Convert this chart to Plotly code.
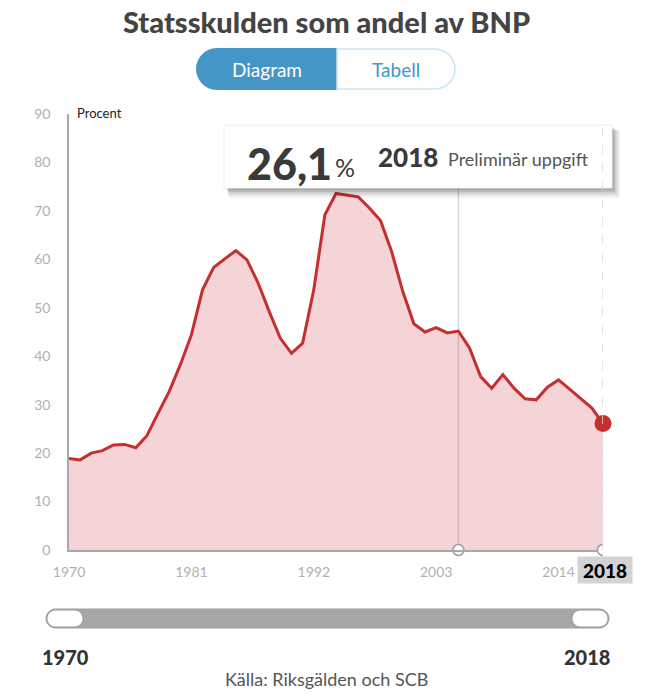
import math
import plotly.graph_objects as go

# ---------------- data ----------------
years = list(range(1970, 2019))
debt_pct = [18.9, 18.6, 20.0, 20.5, 21.7, 21.8, 21.1, 23.6, 28.2, 32.7,
            38.2, 44.4, 53.7, 58.3, 60.1, 61.8, 59.9, 55.1, 49.2, 43.7,
            40.6, 42.7, 53.7, 69.2, 73.6, 73.3, 72.9, 70.6, 68.0, 61.6,
            53.4, 46.7, 45.0, 45.9, 44.8, 45.2, 41.7, 35.8, 33.4, 36.2,
            33.4, 31.2, 31.0, 33.6, 35.1, 33.2, 31.3, 29.3, 26.1]
x_tickvals = [1970, 1981, 1992, 2003, 2014]
y_tickvals = [0, 10, 20, 30, 40, 50, 60, 70, 80, 90]
hover_year = 2005
selected_year = 2018
selected_value = "26,1"

title_text = "Statsskulden som andel av BNP"
source_text = "Källa: Riksgälden och SCB"

# ---------------- geometry helpers (pixel -> paper) ----------------
W, H = 652, 700
L, R, T, B = 69, 603, 114, 550
PW, PH = R - L, B - T


def px(x):
    return (x - L) / PW


def py(y):
    return (B - y) / PH


def rr_path(x0, y0, x1, y1, r, left=True, right=True, n=14):
    pts = []
    if right:
        cx, cy = x1 - r, (y0 + y1) / 2
        for i in range(n + 1):
            a = -math.pi / 2 + math.pi * i / n
            pts.append((cx + r * math.cos(a), cy + r * math.sin(a)))
    else:
        pts += [(x1, y0), (x1, y1)]
    if left:
        cx, cy = x0 + r, (y0 + y1) / 2
        for i in range(n + 1):
            a = math.pi / 2 + math.pi * i / n
            pts.append((cx + r * math.cos(a), cy + r * math.sin(a)))
    else:
        pts += [(x0, y1), (x0, y0)]
    d = "M " + " L ".join(f"{px(a):.5f},{py(b):.5f}" for a, b in pts) + " Z"
    return d


def rect(x0, y0, x1, y1, fill, line_color=None, line_width=0, layer="above"):
    return dict(type="rect", xref="paper", yref="paper",
                x0=px(x0), x1=px(x1), y0=py(y1), y1=py(y0),
                fillcolor=fill, layer=layer,
                line=dict(color=line_color or fill, width=line_width))


def path(d, fill, line_color=None, line_width=0, layer="above"):
    return dict(type="path", xref="paper", yref="paper", path=d,
                fillcolor=fill, layer=layer,
                line=dict(color=line_color or fill, width=line_width))


FONT = "Lato, 'Open Sans', sans-serif"
RED = "#c62f2f"
BLUE = "#4496c8"

fig = go.Figure()

fig.add_trace(go.Scatter(
    x=years, y=debt_pct, mode="lines",
    line=dict(color=RED, width=3),
    fill="tozeroy", fillcolor="rgba(205,50,60,0.21)",
    hoverinfo="skip", showlegend=False))

# hover circle on axis
fig.add_trace(go.Scatter(
    x=[hover_year], y=[0], mode="markers", cliponaxis=False,
    marker=dict(size=11, color="white", line=dict(color="#9a9a9a", width=1.5)),
    hoverinfo="skip", showlegend=False))

# selected point
fig.add_trace(go.Scatter(
    x=[selected_year], y=[debt_pct[years.index(selected_year)]],
    mode="markers", cliponaxis=False,
    marker=dict(size=17, color=RED, line=dict(width=0)),
    hoverinfo="skip", showlegend=False))

shapes = []
# vertical hover line
shapes.append(dict(type="line", xref="x", yref="paper",
                   x0=hover_year, x1=hover_year, y0=0, y1=py(188),
                   line=dict(color="#d6d6d6", width=1.5), layer="below"))
# half circle at 2018 on the axis
hc = []
for i in range(13):
    a = math.pi / 2 + math.pi * i / 12
    hc.append((R + 5.5 * math.cos(a), B + 5.5 * math.sin(a)))
hc_d = "M " + " L ".join(f"{px(a):.5f},{py(b):.5f}" for a, b in hc)
shapes.append(dict(type="path", xref="paper", yref="paper", path=hc_d,
                   line=dict(color="#9a9a9a", width=1.5), fillcolor="white",
                   layer="above"))

# tooltip shadow + box
for k, op in [(10, 0.05), (8, 0.06), (6, 0.08), (4, 0.10), (2, 0.12)]:
    shapes.append(rect(226 + k * 0.3, 127 + k * 0.4, 612 + k * 0.8, 188 + k,
                       fill=f"rgba(0,0,0,{op})", line_width=0))
shapes.append(rect(224, 125, 612, 188, fill="white",
                   line_color="#eeeeee", line_width=1))
# dashed line at selected year
shapes.append(dict(type="line", xref="x", yref="paper",
                   x0=selected_year, x1=selected_year, y0=0, y1=py(125),
                   line=dict(color="#d8d8d8", width=1.5, dash="dash"),
                   layer="above"))

# toggle pill
shapes.append(path(rr_path(196, 48, 337, 90, 21, left=True, right=False),
                   fill=BLUE, line_width=0))
shapes.append(path(rr_path(337, 49, 455, 89, 20, left=False, right=True),
                   fill="white", line_color="#cde4f2", line_width=1.5))

# slider
shapes.append(path(rr_path(46, 609, 609, 628, 9.5), fill="#a6a6a6",
                   line_color="#a0a0a0", line_width=1))
shapes.append(path(rr_path(47, 610, 83, 627, 8.5), fill="white",
                   line_color="#9a9a9a", line_width=1))
shapes.append(path(rr_path(572, 610, 608, 627, 8.5), fill="white",
                   line_color="#9a9a9a", line_width=1))

annotations = []


def ann(text, x, y, size, color="#333", weight="normal", xanchor="center",
        yanchor="middle", **kw):
    annotations.append(dict(
        text=text, xref="paper", yref="paper",
        x=px(x), y=py(y), xanchor=xanchor, yanchor=yanchor, showarrow=False,
        font=dict(family=FONT, size=size, color=color, weight=weight), **kw))


ann(title_text, 326, 22, 29, color="#444", weight=900)
ann("Diagram", 267, 69, 19, color="white")
ann("Tabell", 396, 69, 19, color=BLUE)
ann("Procent", 75, 113, 13, color="#222", xanchor="left")

# tooltip contents
ann(selected_value, 245, 163, 43, color="#3a3a3a", weight=900, xanchor="left")
ann("%", 333, 167, 25, color="#3a3a3a", xanchor="left")
ann(str(selected_year), 376, 157, 26, color="#3a3a3a", weight=900, xanchor="left")
ann("Preliminär uppgift", 446, 159, 18, color="#555", xanchor="left")

# selected year label on axis
ann(str(selected_year), 605, 570, 19, color="black", weight=900,
    bgcolor="#d3d3d3", width=54, height=26, borderpad=0)

# slider labels and source
ann(str(years[0]), 65, 657, 20, color="#333", weight=900)
ann(str(years[-1]), 587, 657, 20, color="#333", weight=900)
ann(source_text, 326, 679, 18, color="#555")

fig.update_layout(
    width=W, height=H, autosize=False,
    margin=dict(l=L, r=W - R, t=T, b=H - B, pad=0),
    paper_bgcolor="white", plot_bgcolor="white",
    font=dict(family=FONT),
    shapes=shapes, annotations=annotations,
    xaxis=dict(range=[1970, 2018], tickvals=x_tickvals,
               ticktext=[str(v) for v in x_tickvals],
               showgrid=False, zeroline=False, showline=True,
               linecolor="#a8a8a8", linewidth=1.5, ticks="",
               ticklabelstandoff=8,
               tickfont=dict(family=FONT, size=14, color="#b0b0b0"),
               fixedrange=True),
    yaxis=dict(range=[0, 90], tickvals=y_tickvals,
               showgrid=False, zeroline=False, showline=True,
               linecolor="#a8a8a8", linewidth=1.5, ticks="",
               ticklabelstandoff=14,
               tickfont=dict(family=FONT, size=14, color="#b0b0b0"),
               fixedrange=True),
    hovermode=False,
)

fig.write_html("out.html")
